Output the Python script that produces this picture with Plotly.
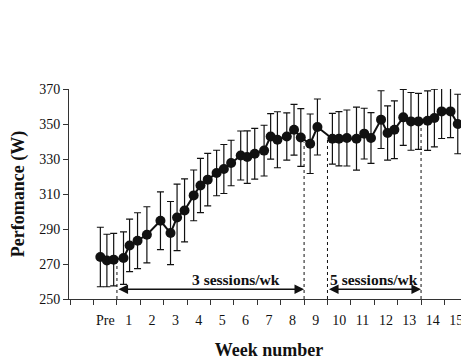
import numpy as np
import plotly.graph_objects as go

# Session positions (in weeks; "Pre" = week 0)
weeks = [-0.21, 0.07, 0.36,
         0.78, 1.04, 1.38,
         1.78, 2.36,
         2.79, 3.07, 3.39,
         3.78, 4.07, 4.38,
         4.76, 5.07, 5.38,
         5.79, 6.07, 6.39,
         6.79, 7.07, 7.36,
         7.76, 8.07, 8.36,
         8.76, 9.07,
         9.71, 9.99, 10.33,
         10.74, 11.07, 11.36,
         11.79, 12.07, 12.36,
         12.74, 13.07, 13.39,
         13.78, 14.07, 14.38,
         14.76, 15.07]

# Mean performance (W)
performance = [274.0, 272.0, 272.5,
               273.4, 280.6, 283.3,
               286.7, 294.7,
               287.7, 296.6, 300.6,
               309.2, 314.9, 318.2,
               322.0, 324.3, 327.7,
               332.0, 331.1, 333.0,
               334.8, 342.9, 341.0,
               342.9, 346.7, 342.3,
               338.7, 348.3,
               341.6, 341.6, 342.0,
               341.6, 344.5, 342.0,
               352.5, 344.9, 346.7,
               353.8, 351.5, 351.5,
               351.9, 353.4, 357.2,
               357.2, 350.0]

# Standard deviation (W)
sd = [17, 15, 15,
      15, 15, 16,
      16, 16.5,
      18, 19, 18,
      14.5, 15.5, 15,
      13, 14, 13,
      14, 15, 14.5,
      14.5, 13, 16,
      13.5, 14.5, 16.5,
      17, 16,
      14.5, 15.5, 16,
      18, 14.5, 14.5,
      16.5, 15.5, 16.5,
      16, 16.5, 16,
      17, 16.5, 15.5,
      15, 17]

week_labels = ["Pre"] + [str(i) for i in range(1, 16)]
week_ticks = list(range(0, 16))

phase_bounds = [0.5, 8.5, 9.5, 13.5]
phases = [("3 sessions/wk", 0.5, 8.5), ("5 sessions/wk", 9.5, 13.5)]

INK = "#111111"
AXIS = "#333333"
SERIF = "Liberation Serif, Times New Roman, serif"

fig = go.Figure()

# dotted phase-boundary lines (from axis up to the curve)
for b in phase_bounds:
    top = float(np.interp(b, weeks, performance)) - 1.5
    fig.add_shape(type="line", xref="x", yref="y", x0=b, x1=b, y0=250, y1=top,
                  line=dict(color=INK, width=1, dash="dot"), layer="below")

fig.add_trace(go.Scatter(
    x=weeks, y=performance, mode="lines+markers",
    line=dict(color=INK, width=2),
    marker=dict(color=INK, size=10),
    error_y=dict(type="data", array=sd, visible=True, color=INK,
                 thickness=1.2, width=3.5),
    cliponaxis=False, showlegend=False,
))

# phase arrows and labels
arrow_y = 255.6
label_y = 261.3
label_x = {"3 sessions/wk": 5.57, "5 sessions/wk": 11.5}
for text, x0, x1 in phases:
    fig.add_annotation(x=x1, y=arrow_y, ax=x0, ay=arrow_y, xref="x", yref="y",
                       axref="x", ayref="y", text="", showarrow=True,
                       arrowhead=2, arrowside="end+start", arrowsize=1.2,
                       arrowwidth=1.6, arrowcolor=INK, standoff=0, startstandoff=0)
    fig.add_annotation(x=label_x[text], y=label_y, xref="x", yref="y",
                       text="<b>" + text + "</b>", showarrow=False,
                       font=dict(family=SERIF, size=15.5, color=INK))

fig.update_layout(
    width=461, height=353,
    margin=dict(l=61, r=0, t=81, b=62),
    paper_bgcolor="white", plot_bgcolor="white",
    font=dict(family=SERIF, size=14, color=INK),
    xaxis=dict(
        range=[-1.55, 15.55], showgrid=False, zeroline=False,
        showline=True, linecolor=AXIS, linewidth=1,
        tickmode="array", tickvals=week_ticks, ticktext=week_labels,
        ticks="", ticklabelstandoff=8,
        tickfont=dict(family=SERIF, size=14, color=INK),
        minor=dict(tickmode="array", tickvals=[k + 0.5 for k in range(-2, 16)],
                   ticks="outside", ticklen=5, tickcolor=AXIS, showgrid=False),
        title=dict(text="<b>Week number</b>", font=dict(family=SERIF, size=18, color=INK),
                   standoff=16),
        automargin=False,
    ),
    yaxis=dict(
        range=[250, 370], dtick=20, tick0=250, showgrid=False, zeroline=False,
        showline=True, linecolor=AXIS, linewidth=1,
        ticks="outside", ticklen=5, tickcolor=AXIS,
        tickfont=dict(family=SERIF, size=14, color=INK),
        title=dict(text="<b>Perfomance (W)</b>", font=dict(family=SERIF, size=18, color=INK),
                   standoff=9),
        automargin=False,
    ),
)

fig.write_html("out.html")
